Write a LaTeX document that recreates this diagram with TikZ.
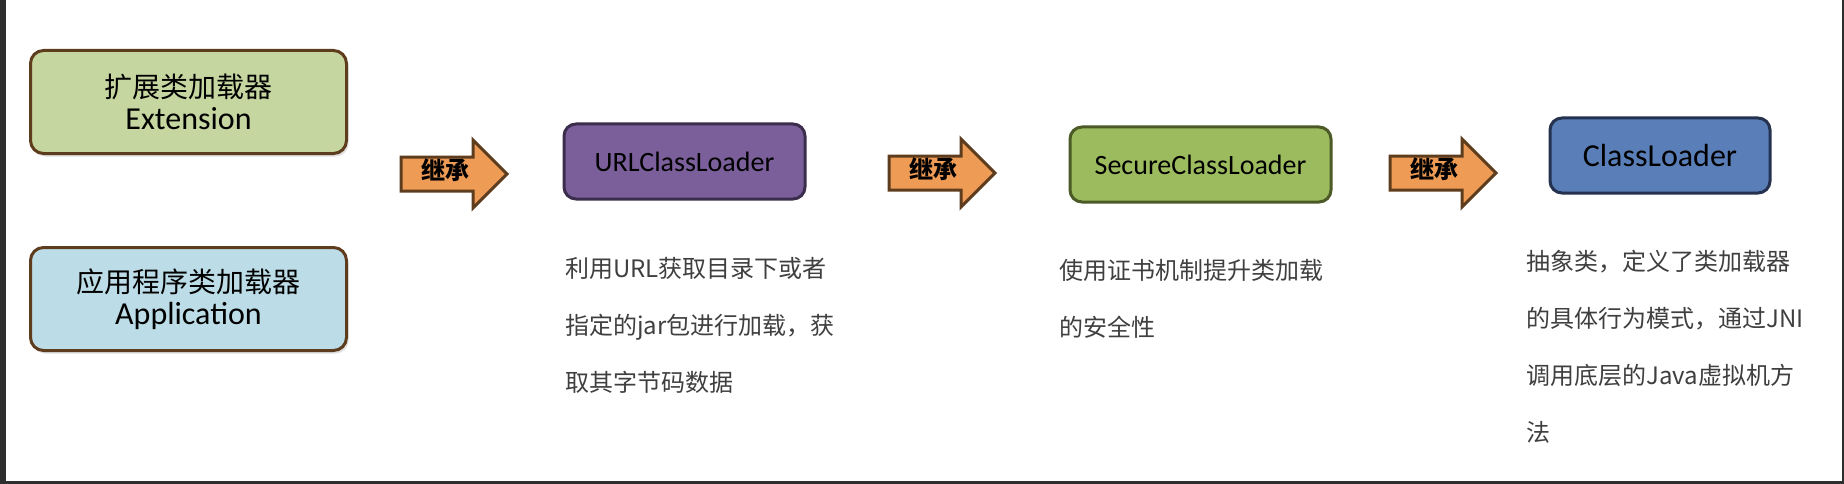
\documentclass[tikz,border=0pt]{standalone}
\usepackage{fontspec}
\setmainfont{Carlito}
\newfontfamily\cjk{Noto Sans CJK SC}
\usepackage{xcolor}
\usepackage{tikz}
\usetikzlibrary{shapes.arrows,shadows}
\definecolor{ExtGreen}{HTML}{C5D6A0}
\definecolor{AppBlue}{HTML}{BCDDE7}
\definecolor{BoxBrown}{HTML}{5E3C1E}
\definecolor{UrlPurple}{HTML}{7B5F9B}
\definecolor{UrlEdge}{HTML}{3B2D4C}
\definecolor{SecGreen}{HTML}{9CBB5E}
\definecolor{SecEdge}{HTML}{4B5A26}
\definecolor{ClsBlue}{HTML}{5A7FB8}
\definecolor{ClsEdge}{HTML}{243250}
\definecolor{ArrowOrange}{HTML}{EE9B55}
\definecolor{TextGray}{HTML}{3F3F3F}
\definecolor{FrameDark}{HTML}{2E2E2E}

\begin{document}
\begin{tikzpicture}[x=1pt,y=-1pt,
  loader/.style={draw=BoxBrown,line width=3pt,rounded corners=13pt,align=center,minimum width=316pt,minimum height=103pt,drop shadow={opacity=0.25,shadow xshift=2pt,shadow yshift=-3pt},font=\fontsize{32pt}{32pt}\selectfont},
  cls/.style={line width=3pt,rounded corners=12pt,minimum height=75pt,font=\fontsize{28pt}{32pt}\selectfont},
  inherit/.style={single arrow,draw=BoxBrown,fill=ArrowOrange,line width=3pt,anchor=tail,minimum height=106pt,single arrow head extend=17pt,text height=15pt,text depth=4pt,inner ysep=6pt,font=\cjk\bfseries\fontsize{24pt}{24pt}\selectfont},
  desc/.style={anchor=base west,align=left,text=TextGray,inner sep=0pt,font=\cjk\fontsize{24pt}{57pt}\selectfont}
]
\useasboundingbox (0,0) rectangle (1844,484);
\fill[white] (0,0) rectangle (1844,484);
\fill[FrameDark] (0,0) rectangle (6,484);
\fill[FrameDark] (0,481) rectangle (1844,484);
\fill[FrameDark] (1842,0) rectangle (1844,484);

% the two loaders on the left
\node[loader,fill=ExtGreen] (ext) at (188.5,102) {{\cjk\fontsize{28pt}{32pt}\selectfont 扩展类加载器}\\Extension};
\node[loader,fill=AppBlue] (app) at (188.5,299) {{\cjk\fontsize{28pt}{32pt}\selectfont 应用程序类加载器}\\Application};

% class chain
\node[cls,draw=UrlEdge,fill=UrlPurple,minimum width=241pt] (url) at (684.5,161.5) {URLClassLoader};
\node[cls,draw=SecEdge,fill=SecGreen,minimum width=261pt] (sec) at (1200.5,164.5) {SecureClassLoader};
\node[cls,draw=ClsEdge,fill=ClsBlue,minimum width=220pt,font=\fontsize{32pt}{32pt}\selectfont] (cl) at (1660,155.5) {ClassLoader};

\foreach \x/\y/\n in {399.5/174/a1,887.5/173/a2,1388.5/173/a3}
  \node[inherit] (\n) at (\x,\y) {继承};

% base of a multi-line node is its last line
\node[desc] (urldesc) at (565,391) {利用URL获取目录下或者\\指定的jar包进行加载，获\\取其字节码数据};
\node[desc] (secdesc) at (1059,336) {使用证书机制提升类加载\\的安全性};
\node[desc] (cldesc) at (1526,441) {抽象类，定义了类加载器\\的具体行为模式，通过JNI\\调用底层的Java虚拟机方\\法};
\end{tikzpicture}
\end{document}
